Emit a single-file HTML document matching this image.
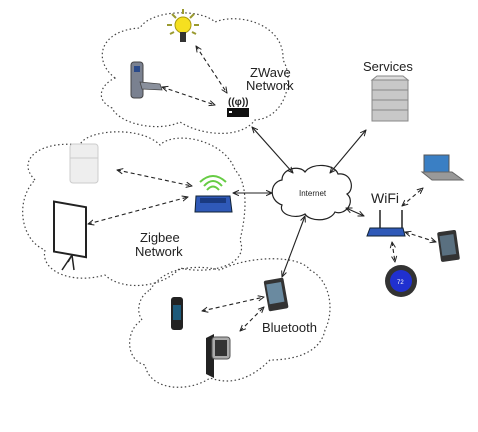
<!DOCTYPE html>
<html><head><meta charset="utf-8"><style>
html,body{margin:0;padding:0;background:#fff}
svg{display:block}
text{font-family:"Liberation Sans",Arial,sans-serif;fill:#222}
</style></head><body>
<svg width="478" height="432" viewBox="0 0 478 432" xmlns="http://www.w3.org/2000/svg">
<defs>
<marker id="a" viewBox="0 0 10 10" refX="9" refY="5" markerWidth="6" markerHeight="6" orient="auto-start-reverse"><path d="M0,1 L9,5 L0,9" fill="none" stroke="#222" stroke-width="1.5"/></marker>
</defs>
<g fill="none" stroke="#444" stroke-width="1.2" stroke-dasharray="1.5 2.5">
<!-- ZWave cloud -->
<path d="M115,78 C92,60 100,30 140,28 C150,10 200,8 215,22 C240,12 285,25 283,60 C295,80 285,118 255,120 C240,140 200,135 180,122 C160,132 120,125 112,108 C95,100 100,85 115,78 Z"/>
<!-- Zigbee cloud -->
<path d="M35,180 C15,160 40,140 80,145 C85,130 140,125 160,145 C175,130 225,140 235,170 C250,185 245,220 240,240 C250,265 210,275 180,268 C160,290 120,290 105,275 C70,285 40,270 45,250 C20,240 15,200 35,180 Z"/>
<!-- Bluetooth cloud -->
<path d="M150,290 C165,265 200,265 220,270 C250,255 300,255 310,270 C330,280 335,310 325,330 C320,355 290,360 270,360 C250,380 230,385 210,378 C190,392 150,392 145,365 C125,360 125,330 142,320 C135,310 140,295 150,290 Z"/>
</g>
<!-- Internet cloud -->
<path d="M282,180 C282,168 300,165 305,172 C312,162 335,164 338,174 C352,172 355,190 347,194 C356,202 345,216 335,212 C330,222 310,222 305,214 C295,220 278,214 282,205 C268,200 270,182 282,180 Z" fill="#fff" stroke="#222" stroke-width="1.2"/>
<text x="299" y="196" font-size="8">Internet</text>
<!-- connectors -->
<g stroke="#222" stroke-width="1.1" fill="none" marker-start="url(#a)" marker-end="url(#a)">
<line x1="252" y1="127" x2="293" y2="173"/>
<line x1="366" y1="130" x2="330" y2="173"/>
<line x1="233" y1="193" x2="272" y2="193"/>
<line x1="346" y1="208" x2="364" y2="216"/>
<line x1="305" y1="216" x2="282" y2="277"/>
</g>
<g stroke="#222" stroke-width="1.1" fill="none" stroke-dasharray="4 3" marker-start="url(#a)" marker-end="url(#a)">
<line x1="196" y1="46" x2="227" y2="93"/>
<line x1="162" y1="87" x2="215" y2="105"/>
<line x1="117" y1="170" x2="192" y2="186"/>
<line x1="88" y1="224" x2="188" y2="197"/>
<line x1="402" y1="206" x2="423" y2="188"/>
<line x1="405" y1="232" x2="436" y2="242"/>
<line x1="392" y1="242" x2="395" y2="262"/>
<line x1="202" y1="311" x2="264" y2="297"/>
<line x1="240" y1="331" x2="264" y2="307"/>
</g>
<!-- labels -->
<text x="250" y="77" font-size="13">ZWave</text>
<text x="246" y="90" font-size="13">Network</text>
<text x="363" y="71" font-size="13">Services</text>
<text x="140" y="242" font-size="13">Zigbee</text>
<text x="135" y="256" font-size="13">Network</text>
<text x="371" y="203" font-size="14">WiFi</text>
<text x="262" y="332" font-size="13">Bluetooth</text>
<!-- bulb -->
<g stroke="#9a9a30" stroke-width="2"><line x1="183" y1="9" x2="183" y2="14"/><line x1="172" y1="14" x2="176" y2="18"/><line x1="194" y1="14" x2="190" y2="18"/><line x1="167" y1="25" x2="172" y2="25"/><line x1="199" y1="25" x2="194" y2="25"/><line x1="170" y1="34" x2="174" y2="32"/><line x1="196" y1="34" x2="192" y2="32"/></g>
<circle cx="183" cy="25" r="8" fill="#f5e020" stroke="#a89a10"/>
<rect x="180" y="32" width="6" height="10" fill="#333"/>
<!-- lock -->
<rect x="131" y="62" width="12" height="36" rx="3" fill="#7a8190" stroke="#444"/>
<rect x="134" y="66" width="6" height="6" fill="#2a4a8a"/>
<path d="M140,82 L160,84 L162,90 L142,89 Z" fill="#8a909c" stroke="#444" stroke-width="0.8"/>
<!-- zwave device -->
<text x="228" y="105" font-size="10" font-weight="bold">((φ))</text>
<rect x="227" y="108" width="22" height="9" fill="#111"/>
<rect x="229" y="111" width="3" height="2" fill="#fff"/>
<!-- server -->
<g fill="#c8c8c8" stroke="#888"><rect x="372" y="80" width="36" height="10"/><rect x="372" y="90" width="36" height="10"/><rect x="372" y="100" width="36" height="10"/><rect x="372" y="110" width="36" height="11"/></g>
<path d="M372,80 L377,76 L403,76 L408,80 Z" fill="#ddd" stroke="#888"/>
<!-- fridge -->
<rect x="70" y="144" width="28" height="39" rx="3" fill="#eee" stroke="#ccc"/>
<line x1="70" y1="158" x2="98" y2="158" stroke="#ccc"/>
<!-- zigbee router -->
<g fill="none" stroke="#6c4" stroke-width="2"><path d="M204,186 Q213,176 222,186"/><path d="M200,182 Q213,170 226,182"/><path d="M207,190 Q213,183 219,190"/></g>
<path d="M196,196 L230,196 L232,212 L195,212 Z" fill="#2f59b8" stroke="#123"/>
<rect x="200" y="198" width="26" height="5" fill="#1a3a80"/>
<!-- screen -->
<rect x="54" y="204" width="32" height="50" fill="#fff" stroke="#222" stroke-width="2" transform="skewY(10) translate(0,-12)"/>
<path d="M72,255 L62,270 M72,255 L74,270 M72,255 L68,262" stroke="#222" stroke-width="1.5" fill="none"/>
<!-- wifi router -->
<line x1="380" y1="210" x2="380" y2="228" stroke="#222" stroke-width="1.5"/>
<line x1="402" y1="210" x2="402" y2="228" stroke="#222" stroke-width="1.5"/>
<path d="M370,228 L403,228 L405,236 L367,236 Z" fill="#2f59b8" stroke="#123"/>
<!-- laptop -->
<rect x="424" y="155" width="25" height="17" fill="#3a7fc4" stroke="#555"/>
<path d="M422,172 L452,172 L463,180 L432,180 Z" fill="#999" stroke="#666"/>
<!-- phone right -->
<rect x="439" y="231" width="19" height="30" rx="2" fill="#333" transform="rotate(-8 448 246)"/>
<rect x="441" y="235" width="14" height="20" fill="#5a7080" transform="rotate(-8 448 246)"/>
<!-- thermostat -->
<circle cx="401" cy="281" r="16" fill="#333"/>
<circle cx="401" cy="281" r="11" fill="#2030d0"/>
<text x="397" y="284" font-size="6" style="fill:#fff">72</text>
<!-- bt phone -->
<rect x="266" y="279" width="20" height="31" rx="2" fill="#333" transform="rotate(-10 276 294)"/>
<rect x="268" y="283" width="15" height="20" fill="#6a8aa0" transform="rotate(-10 276 294)"/>
<!-- fitbit -->
<rect x="171" y="297" width="12" height="33" rx="3" fill="#222"/>
<rect x="173" y="305" width="8" height="15" fill="#1e5a7a"/>
<!-- watch -->
<path d="M206,338 L214,334 L214,378 L206,374 Z" fill="#222"/>
<rect x="212" y="337" width="18" height="22" rx="3" fill="#aaa" stroke="#555"/>
<rect x="215" y="340" width="12" height="16" fill="#333"/>
</svg>
</body></html>
